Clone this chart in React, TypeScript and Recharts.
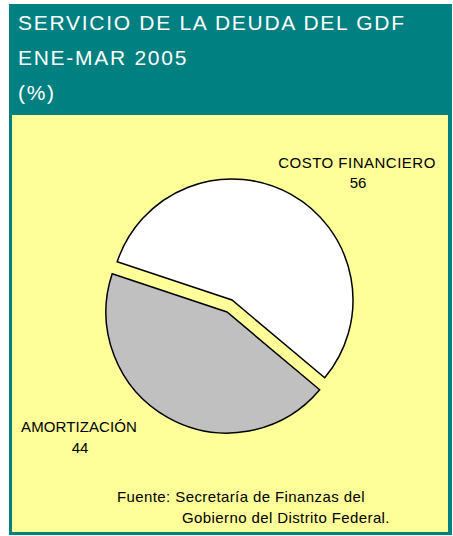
import { PieChart, Pie, Cell } from "recharts";

const categories = ["COSTO FINANCIERO", "AMORTIZACIÓN"];
const values = [56, 44];
const sliceColors = ["#FFFFFF", "#C0C0C0"];
const titleLines = ["SERVICIO DE LA DEUDA DEL GDF", "ENE-MAR 2005", "(%)"];
const sourceLines = ["Fuente: Secretaría de Finanzas del", "Gobierno del Distrito Federal."];

const data = categories.map((name, i) => ({ name, value: values[i] }));

const FONT = "'Liberation Sans', Arial, sans-serif";

// each slice sits in its own pie, moved off centre to look exploded
const pieCenters = [
  { cx: 232, cy: 300 },
  { cx: 227, cy: 312 },
];

export default function App() {
  return (
    <div style={{ position: "absolute", left: 0, top: 0, width: 453, height: 536 }}>
      <div
        style={{
          position: "absolute",
          left: 9,
          top: 4,
          width: 443,
          height: 531,
          background: "#008080",
        }}
      />
      <div
        style={{
          position: "absolute",
          left: 12,
          top: 115,
          width: 436,
          height: 417,
          background: "#FFFF99",
        }}
      />
      <div style={{ position: "absolute", left: 0, top: 0 }}>
        <PieChart width={453} height={536} margin={{ top: 0, right: 0, bottom: 0, left: 0 }}>
          {pieCenters.map((c, p) => (
            <Pie
              key={`pie-${p}`}
              data={data}
              dataKey="value"
              cx={c.cx}
              cy={c.cy}
              innerRadius={0}
              outerRadius={121}
              startAngle={-40}
              endAngle={320}
              isAnimationActive={false}
            >
              {data.map((entry, i) => (
                <Cell
                  key={`cell-${p}-${i}`}
                  fill={i === p ? sliceColors[i] : "transparent"}
                  stroke={i === p ? "#000000" : "none"}
                  strokeWidth={1.5}
                />
              ))}
            </Pie>
          ))}
        </PieChart>
      </div>
      <svg
        width={453}
        height={536}
        style={{ position: "absolute", left: 0, top: 0, pointerEvents: "none" }}
      >
        {titleLines.map((t, i) => (
          <text
            key={t}
            x={18}
            y={30 + i * 35}
            fill="#FFFFFF"
            fontFamily={FONT}
            fontSize={21}
            letterSpacing={1.72}
          >
            {t}
          </text>
        ))}
        <g fontFamily={FONT} fontSize={15} fill="#000000" textAnchor="middle">
          <text x={357} y={168} letterSpacing={0.5}>{categories[0]}</text>
          <text x={358} y={188}>{values[0]}</text>
          <text x={79} y={432} letterSpacing={0.1}>{categories[1]}</text>
          <text x={80} y={453}>{values[1]}</text>
        </g>
        <g fontFamily={FONT} fontSize={15} fill="#000000" letterSpacing={0.4}>
          <text x={117} y={502}>{sourceLines[0]}</text>
          <text x={182} y={523}>{sourceLines[1]}</text>
        </g>
      </svg>
    </div>
  );
}
